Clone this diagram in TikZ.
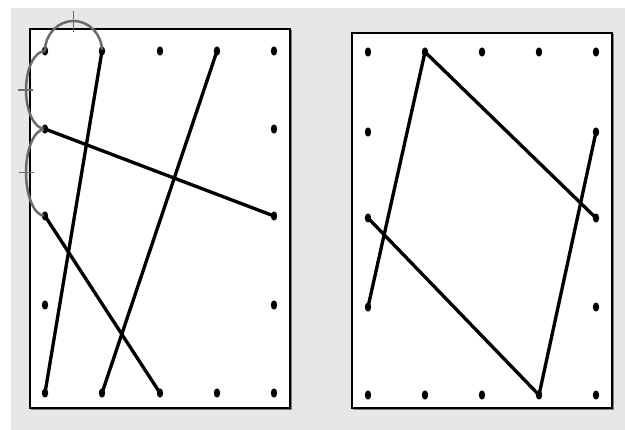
\documentclass[tikz,border=0pt]{standalone}
\usepackage{xcolor}
\usepackage{tikz}

\definecolor{panelbg}{HTML}{E6E7E8}
\definecolor{knotgray}{HTML}{6A6A6A}

\begin{document}
\begin{tikzpicture}[x=0.4mm,y=-0.4mm]
\tikzset{
  board/.style={draw=black,line width=1.8pt,fill=white},
  cord/.style={black,line width=3.8pt,line cap=round},
  knot/.style={knotgray,line width=2.8pt},
  peg/.style={black}
}
\useasboundingbox (0,0) rectangle (625,430);
\fill[panelbg] (11,8) rectangle (625,430);

% boards
\draw[gray,line width=1.8pt] (31.5,30.5) rectangle (291.5,409.5);
\draw[board] (30,29) rectangle (290,408);
\draw[gray,line width=1.8pt] (353.5,34.5) rectangle (613.5,409.5);
\draw[board] (352,33) rectangle (612,408);

% pegs
\foreach \c [count=\i] in {45,102,160,217,274}
  \foreach \r [count=\j] in {51,129,216,305,393}
    \coordinate (a\i\j) at (\c,\r);
\foreach \c [count=\i] in {368,425,482,539,596}
  \foreach \r [count=\j] in {52,132,218,307,395}
    \coordinate (b\i\j) at (\c,\r);
\foreach \i in {1,...,5} {
  \fill[peg] (a\i1) ellipse (3.2 and 4.6);
  \fill[peg] (a\i5) ellipse (3.2 and 4.6);
  \fill[peg] (b\i1) ellipse (3.2 and 4.6);
  \fill[peg] (b\i5) ellipse (3.2 and 4.6);
}
\foreach \j in {2,3,4} {
  \fill[peg] (a1\j) ellipse (3.2 and 4.6);
  \fill[peg] (a5\j) ellipse (3.2 and 4.6);
  \fill[peg] (b1\j) ellipse (3.2 and 4.6);
  \fill[peg] (b5\j) ellipse (3.2 and 4.6);
}

% left board
\draw[knot] (a11) arc[start angle=180,end angle=360,x radius=28.5,y radius=30];
\draw[knot] (a11) arc[start angle=270,end angle=90,x radius=19,y radius=39];
\draw[knot] (a12) arc[start angle=270,end angle=90,x radius=19,y radius=43.5];
\draw[knot,line width=2.2pt] (73.5,11) -- (73.5,32);
\draw[knot,line width=2.2pt] (18,90) -- (33,90);
\draw[knot,line width=2.2pt] (19,172.5) -- (34,172.5);
\draw[cord] (a21) -- (a15);
\draw[cord] (a41) -- (a25);
\draw[cord] (a12) -- (a53);
\draw[cord] (a13) -- (a35);

% right board
\draw[cord] (b21) -- (b14);
\draw[cord] (b21) -- (b53);
\draw[cord] (b13) -- (b45);
\draw[cord] (b45) -- (b52);
\end{tikzpicture}
\end{document}
